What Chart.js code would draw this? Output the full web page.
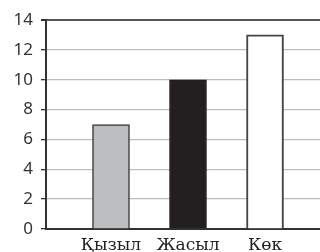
<!DOCTYPE html>
<html>
<head>
<meta charset="utf-8">
<script src="https://cdn.jsdelivr.net/npm/chart.js@4"></script>
<style>
  html, body { margin: 0; padding: 0; background: #fff; }
  #wrap { width: 320px; height: 252px; }
</style>
</head>
<body>
<div id="wrap"><canvas id="chart" width="320" height="252"></canvas></div>
<script>
const categories = ['Қызыл', 'Жасыл', 'Көк'];
const counts = [7, 10, 13];
const barColors = ['#bdbec0', '#231f20', '#ffffff'];
const yTicks = [0, 2, 4, 6, 8, 10, 12, 14];

// bars sit on a linear x axis so the first one can start well inside the plot
const points = categories.map((c, i) => ({ x: i + 1, y: counts[i] }));

new Chart(document.getElementById('chart'), {
  type: 'bar',
  data: {
    datasets: [{
      data: points,
      backgroundColor: barColors,
      borderColor: ['#3a3a3a', '#231f20', '#444'],
      borderWidth: [1.5, 1, 2],
      borderSkipped: 'start',
      barThickness: 37
    }]
  },
  options: {
    responsive: false,
    animation: false,
    layout: { padding: { top: 20, right: 0, left: 0, bottom: 0 } },
    plugins: { legend: { display: false }, tooltip: { enabled: false } },
    scales: {
      x: {
        type: 'linear',
        offset: false,
        min: 0.156,
        max: 3.714,
        afterBuildTicks: s => { s.ticks = categories.map((c, i) => ({ value: i + 1 })); },
        afterFit: s => { s.height = 23; },
        grid: { display: false, offset: false },
        border: { display: true, color: '#333', width: 2 },
        ticks: {
          autoSkip: false,
          maxRotation: 0,
          padding: 0,
          color: '#222',
          font: { family: 'DejaVu Serif', size: 17, lineHeight: 1 },
          callback: v => categories[v - 1]
        }
      },
      y: {
        min: 0,
        max: 14,
        afterBuildTicks: s => { s.ticks = yTicks.map(v => ({ value: v })); },
        afterFit: s => { s.width = 46; },
        grid: {
          color: c => c.tick && c.tick.value === 14 ? '#555' : '#bdbdbd',
          lineWidth: c => c.tick && c.tick.value === 14 ? 2 : 1.3,
          tickColor: '#333',
          tickLength: 5
        },
        border: { display: true, color: '#333', width: 2 },
        ticks: {
          padding: 8,
          color: '#333',
          font: { family: 'Noto Sans', size: 17 }
        }
      }
    }
  }
});
</script>
</body>
</html>
